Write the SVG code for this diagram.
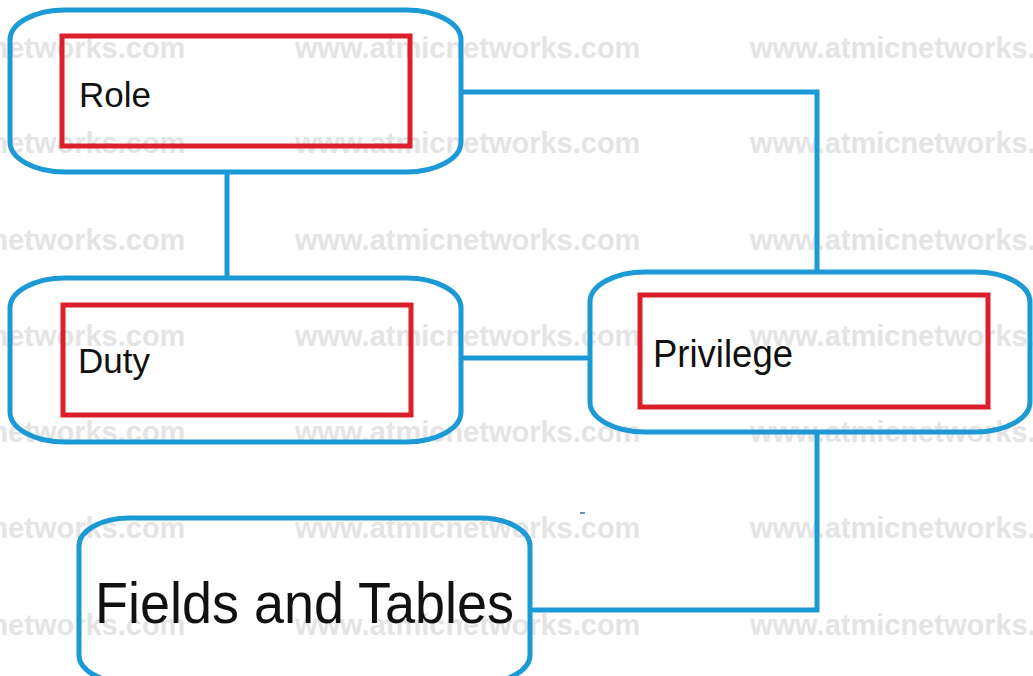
<svg xmlns="http://www.w3.org/2000/svg" width="1033" height="676" viewBox="0 0 1033 676">
<style>
.wm{font-family:"Liberation Sans",Arial,sans-serif;font-weight:bold;font-size:29px;fill:#e4e4e4}
.outer{fill:none;stroke:#1b9ad6;stroke-width:5}
.inner{fill:none;stroke:#dc1f2d;stroke-width:5}
.conn{fill:none;stroke:#1b9ad6;stroke-width:5}
.lbl{font-family:"Liberation Sans",Arial,sans-serif;fill:#111}
</style>
<rect width="1033" height="676" fill="#fff"/>
<g id="watermark">
<text class="wm" x="-160" y="58">www.atmicnetworks.com</text><text class="wm" x="295" y="58">www.atmicnetworks.com</text><text class="wm" x="750" y="58">www.atmicnetworks.com</text>
<text class="wm" x="-160" y="153">www.atmicnetworks.com</text><text class="wm" x="295" y="153">www.atmicnetworks.com</text><text class="wm" x="750" y="153">www.atmicnetworks.com</text>
<text class="wm" x="-160" y="250">www.atmicnetworks.com</text><text class="wm" x="295" y="250">www.atmicnetworks.com</text><text class="wm" x="750" y="250">www.atmicnetworks.com</text>
<text class="wm" x="-160" y="346">www.atmicnetworks.com</text><text class="wm" x="295" y="346">www.atmicnetworks.com</text><text class="wm" x="750" y="346">www.atmicnetworks.com</text>
<text class="wm" x="-160" y="442">www.atmicnetworks.com</text><text class="wm" x="295" y="442">www.atmicnetworks.com</text><text class="wm" x="750" y="442">www.atmicnetworks.com</text>
<text class="wm" x="-160" y="538">www.atmicnetworks.com</text><text class="wm" x="295" y="538">www.atmicnetworks.com</text><text class="wm" x="750" y="538">www.atmicnetworks.com</text>
<text class="wm" x="-160" y="635">www.atmicnetworks.com</text><text class="wm" x="295" y="635">www.atmicnetworks.com</text><text class="wm" x="750" y="635">www.atmicnetworks.com</text>
</g>
<g id="connectors">
<path class="conn" d="M227,172 V278"/>
<path class="conn" d="M461,92 H817 V272"/>
<path class="conn" d="M461,358 H590"/>
<path class="conn" d="M817,432 V610 H530"/>
<path d="M580,513 H585" stroke="#3a6f99" stroke-width="1.5"/>
</g>
<g id="role">
<path class="outer" d="M65,10 H406 A55,30 0 0 1 461,40 V142 A55,30 0 0 1 406,172 H65 A55,30 0 0 1 10,142 V40 A55,30 0 0 1 65,10 Z"/>
<rect class="inner" x="62" y="36" width="348" height="110"/>
<text class="lbl" x="79" y="107" font-size="35">Role</text>
</g>
<g id="duty">
<path class="outer" d="M65,278 H406 A55,30 0 0 1 461,308 V412 A55,30 0 0 1 406,442 H65 A55,30 0 0 1 10,412 V308 A55,30 0 0 1 65,278 Z"/>
<rect class="inner" x="63" y="305" width="348" height="110"/>
<text class="lbl" x="78" y="373" font-size="35">Duty</text>
</g>
<g id="privilege">
<path class="outer" d="M645,272 H975 A55,30 0 0 1 1030,302 V402 A55,30 0 0 1 975,432 H645 A55,30 0 0 1 590,402 V302 A55,30 0 0 1 645,272 Z"/>
<rect class="inner" x="640" y="295" width="348" height="112"/>
<text class="lbl" x="653" y="367" font-size="39" textLength="140" lengthAdjust="spacingAndGlyphs">Privilege</text>
</g>
<g id="fields">
<path class="outer" d="M129,518 H480 A50,28 0 0 1 530,546 V655 A50,28 0 0 1 480,683 H129 A50,28 0 0 1 79,655 V546 A50,28 0 0 1 129,518 Z"/>
<text class="lbl" x="95" y="623" font-size="57" textLength="419" lengthAdjust="spacingAndGlyphs">Fields and Tables</text>
</g>
</svg>
